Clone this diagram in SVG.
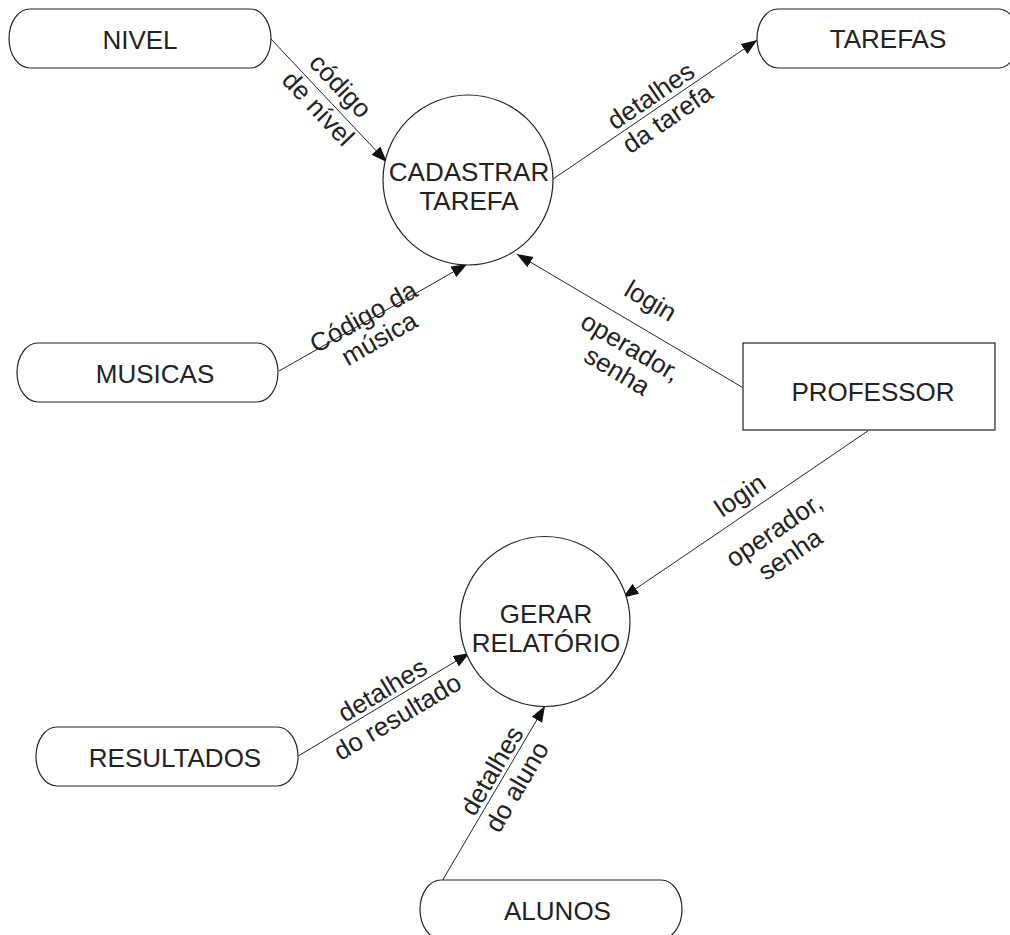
<svg xmlns="http://www.w3.org/2000/svg" width="1010" height="935" viewBox="0 0 1010 935">
<style>
.box{fill:#fff;stroke:#222;stroke-width:1.2}
.t{font-family:"Liberation Sans",Arial,sans-serif;font-size:26px;fill:#222;text-anchor:middle}
.l{font-family:"Liberation Sans",Arial,sans-serif;font-size:26px;fill:#222;text-anchor:middle;dominant-baseline:central}
.c{stroke:#222;stroke-width:1;fill:none;marker-end:url(#ah)}
</style>
<defs>
<marker id="ah" markerUnits="userSpaceOnUse" markerWidth="17" markerHeight="13" refX="16" refY="6" orient="auto">
<path d="M0,0 L16,6 L0,12 z" fill="#111"/>
</marker>
</defs>
<rect width="1010" height="935" fill="#fff"/>
<g id="connectors">
<line class="c" x1="271" y1="39" x2="387" y2="162.3"/>
<line class="c" x1="552.7" y1="179.3" x2="757.3" y2="40"/>
<line class="c" x1="279" y1="371" x2="467.3" y2="264"/>
<line class="c" x1="742.3" y1="387.3" x2="516.7" y2="254"/>
<line class="c" x1="868.3" y1="430.7" x2="622.7" y2="597.7"/>
<line class="c" x1="298.3" y1="756" x2="469.5" y2="653"/>
<line class="c" x1="442.7" y1="880" x2="545" y2="706"/>
</g>
<g id="labels">
<text class="l" transform="translate(340.7,85.7) rotate(46.7)">código</text>
<text class="l" transform="translate(318.3,108.3) rotate(46.7)">de nível</text>
<text class="l" transform="translate(650.7,95.7) rotate(-34.2)">detalhes</text>
<text class="l" transform="translate(667.3,118.3) rotate(-34.2)">da tarefa</text>
<text class="l" transform="translate(363.3,316.7) rotate(-29.6)">Código da</text>
<text class="l" transform="translate(379,338.3) rotate(-29.6)">música</text>
<text class="l" transform="translate(650.7,300.7) rotate(30.6)">login</text>
<text class="l" transform="translate(630.7,346.7) rotate(30.6)">operador,</text>
<text class="l" transform="translate(617.3,370.7) rotate(30.6)">senha</text>
<text class="l" transform="translate(740,495) rotate(-34.2)">login</text>
<text class="l" transform="translate(774,530) rotate(-34.2)">operador,</text>
<text class="l" transform="translate(790,554) rotate(-34.2)">senha</text>
<text class="l" transform="translate(382.3,690) rotate(-31)">detalhes</text>
<text class="l" transform="translate(397.3,716.7) rotate(-31)">do resultado</text>
<text class="l" transform="translate(491.7,770.7) rotate(-59.5)">detalhes</text>
<text class="l" transform="translate(516.7,786.7) rotate(-59.5)">do aluno</text>
</g>
<g id="nivel"><rect class="box" x="9" y="9" width="262" height="59" rx="21" ry="29.5"/><text class="t" x="140" y="48.5">NIVEL</text></g>
<g id="tarefas"><rect class="box" x="757" y="9" width="262" height="59" rx="21" ry="29.5"/><text class="t" x="888" y="48">TAREFAS</text></g>
<g id="musicas"><rect class="box" x="17" y="343" width="261" height="59" rx="21" ry="29.5"/><text class="t" x="155" y="383">MUSICAS</text></g>
<g id="resultados"><rect class="box" x="36" y="727" width="262" height="59" rx="21" ry="29.5"/><text class="t" x="175" y="767">RESULTADOS</text></g>
<g id="alunos"><rect class="box" x="420" y="880" width="262" height="59" rx="21" ry="29.5"/><text class="t" x="557.5" y="920">ALUNOS</text></g>
<g id="professor"><rect class="box" x="743" y="343" width="252" height="87"/><text class="t" x="873" y="401">PROFESSOR</text></g>
<g id="cadastrar"><circle class="box" cx="468" cy="180" r="85"/><text class="t" x="469" y="181">CADASTRAR</text><text class="t" x="469" y="210">TAREFA</text></g>
<g id="gerar"><circle class="box" cx="545" cy="621.5" r="85"/><text class="t" x="546" y="623">GERAR</text><text class="t" x="546" y="652">RELATÓRIO</text></g>
</svg>
